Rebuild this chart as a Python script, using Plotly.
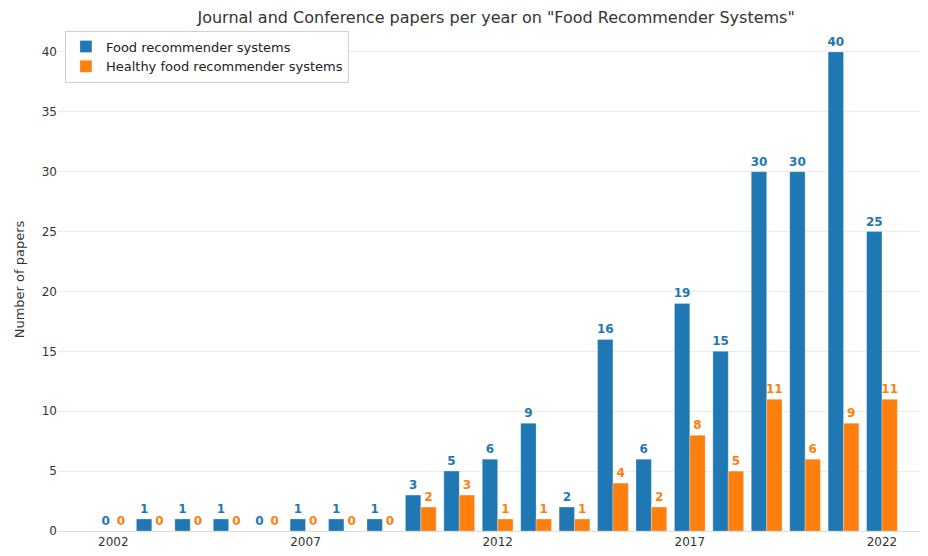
import plotly.graph_objects as go

years = list(range(2002, 2023))
food = [0, 1, 1, 1, 0, 1, 1, 1, 3, 5, 6, 9, 2, 16, 6, 19, 15, 30, 30, 40, 25]
healthy = [0, 0, 0, 0, 0, 0, 0, 0, 2, 3, 1, 1, 1, 4, 2, 8, 5, 11, 6, 9, 11]
series_names = ["Food recommender systems", "Healthy food recommender systems"]
colors = ["#1f77b4", "#ff7f0e"]
x_ticks = [2002, 2007, 2012, 2017, 2022]
y_ticks = [0, 5, 10, 15, 20, 25, 30, 35, 40]

fig = go.Figure()
for name, vals, col in zip(series_names, [food, healthy], colors):
    fig.add_trace(go.Bar(
        x=years, y=vals, name=name,
        marker=dict(color=col, line=dict(color="rgba(255,255,255,0.35)", width=0.8)),
        text=[str(v) for v in vals], textposition="outside", constraintext="none",
        textfont=dict(family="DejaVu Sans", size=12, color=col, weight="bold"),
        cliponaxis=False,
    ))

fig.update_layout(
    width=928, height=556,
    margin=dict(l=48, r=11, t=20, b=33),
    paper_bgcolor="white", plot_bgcolor="white",
    barmode="group", bargap=0.2, bargroupgap=0,
    title=dict(text='Journal and Conference papers per year on "Food Recommender Systems"',
               x=0.526, xref="container", xanchor="center", y=0.984, yanchor="middle",
               font=dict(family="DejaVu Sans", size=16, color="#333333")),
    font=dict(family="DejaVu Sans", size=12, color="#333333"),
    legend=dict(x=0.008, y=0.995, xanchor="left", yanchor="top",
                bordercolor="#d0d0d0", borderwidth=1, bgcolor="white",
                font=dict(size=13, color="#222222"), tracegroupgap=0,
                itemwidth=30),
    xaxis=dict(range=[2000.56, 2023.12], tickvals=x_ticks, showgrid=False,
               showline=True, linecolor="#dddddd", linewidth=1, ticks="",
               zeroline=False, tickfont=dict(size=12, color="#333333")),
    yaxis=dict(range=[0, 42], tickvals=y_ticks, showgrid=True, gridcolor="#ececec",
               gridwidth=1, zeroline=False, showline=False, ticks="",
               title=dict(text="Number of papers", standoff=14, font=dict(size=13, color="#333333")),
               tickfont=dict(size=12, color="#333333")),
)

fig.write_html("out.html")
